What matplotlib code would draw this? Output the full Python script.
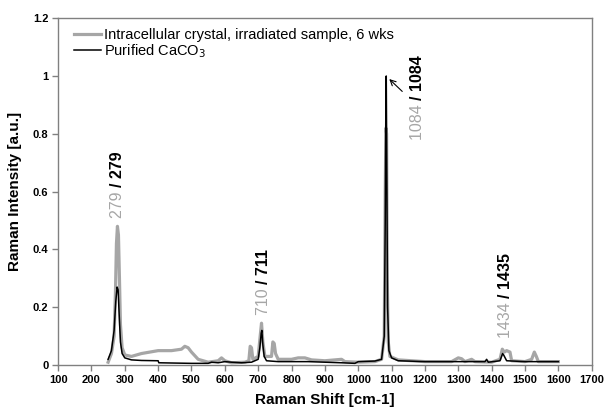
"""
Raman spectra: intracellular crystal vs purified CaCO3.
"""

import matplotlib
matplotlib.use('Agg')
import matplotlib.pyplot as plt
from matplotlib.transforms import offset_copy

# ---------------------------------------------------------------------------
# Data
# ---------------------------------------------------------------------------

purified_shift = [250, 260, 268, 273, 277, 280, 283, 287, 292, 300, 320, 350,
                  400, 402, 450, 500, 550, 560, 580, 600, 620, 650, 680, 700,
                  705, 709, 711, 714, 718, 725, 760, 800, 850, 900, 950, 990,
                  1000, 1050, 1070, 1078, 1081, 1083, 1084, 1086, 1088, 1092,
                  1100, 1120, 1200, 1300, 1380, 1385, 1390, 1425, 1433, 1436,
                  1445, 1500, 1550, 1600]
purified_int = [0.02, 0.05, 0.12, 0.22, 0.27, 0.26, 0.18, 0.08, 0.04, 0.025,
                0.018, 0.016, 0.015, 0.008, 0.007, 0.006, 0.006, 0.01, 0.008,
                0.012, 0.01, 0.008, 0.01, 0.02, 0.06, 0.11, 0.12, 0.07, 0.03,
                0.015, 0.012, 0.012, 0.012, 0.01, 0.008, 0.006, 0.012, 0.014,
                0.02, 0.1, 0.5, 0.95, 1.0, 0.6, 0.2, 0.05, 0.025, 0.015, 0.012,
                0.012, 0.012, 0.02, 0.01, 0.015, 0.04, 0.035, 0.015, 0.012,
                0.012, 0.012]

crystal_shift = [250, 260, 268, 272, 275, 278, 281, 284, 287, 292, 300, 320,
                 350, 400, 440, 470, 480, 490, 500, 520, 550, 580, 590, 600,
                 620, 660, 672, 676, 680, 684, 700, 706, 710, 714, 720, 740,
                 744, 748, 752, 760, 800, 820, 840, 860, 900, 950, 960, 1000,
                 1050, 1070, 1078, 1081, 1083, 1085, 1087, 1090, 1095, 1120,
                 1200, 1280, 1300, 1310, 1320, 1340, 1350, 1400, 1425, 1432,
                 1438, 1445, 1455, 1460, 1500, 1520, 1528, 1534, 1540, 1600]
crystal_int = [0.01, 0.04, 0.1, 0.25, 0.42, 0.48, 0.45, 0.3, 0.14, 0.06, 0.035,
               0.03, 0.04, 0.05, 0.05, 0.055, 0.065, 0.06, 0.045, 0.02, 0.01,
               0.015, 0.025, 0.015, 0.008, 0.01, 0.015, 0.065, 0.06, 0.02,
               0.03, 0.1, 0.145, 0.08, 0.03, 0.03, 0.08, 0.075, 0.04, 0.02,
               0.02, 0.025, 0.025, 0.018, 0.015, 0.02, 0.012, 0.01, 0.012,
               0.02, 0.1, 0.6, 0.82, 0.8, 0.3, 0.08, 0.03, 0.018, 0.012, 0.012,
               0.025, 0.022, 0.012, 0.02, 0.012, 0.01, 0.02, 0.055, 0.045,
               0.05, 0.045, 0.015, 0.012, 0.02, 0.045, 0.03, 0.012, 0.012]

# peak labels: gray part, black part, and where the label starts
peak_gray = ['279 ', '710 ', '1084 ', '1434 ']
peak_black = ['/ 279', '/ 711', '/ 1084', '/ 1435']
peak_x = [279, 715, 1177, 1441]
peak_y = [0.51, 0.173, 0.778, 0.093]

GRAY = '#a6a6a6'
SPINE = '#808080'

plt.rcParams['font.family'] = ['Liberation Sans', 'DejaVu Sans']

fig = plt.figure(figsize=(6.05, 4.13), dpi=100)
ax = fig.add_axes([0.096, 0.116, 0.882, 0.840])

ax.plot(crystal_shift, crystal_int, color=GRAY, lw=2.3,
        label='Intracellular crystal, irradiated sample, 6 wks')
ax.plot(purified_shift, purified_int, color='black', lw=1.1,
        label='Purified CaCO$_3$')

ax.set_xlim(100, 1700)
ax.set_ylim(0, 1.2)
ax.set_xticks(range(100, 1701, 100))
ax.set_yticks([0, 0.2, 0.4, 0.6, 0.8, 1.0, 1.2])
ax.set_yticklabels(['0', '0.2', '0.4', '0.6', '0.8', '1', '1.2'])
for lab in ax.get_xticklabels() + ax.get_yticklabels():
    lab.set_fontweight('bold')
ax.tick_params(direction='out', length=4, width=1, color=SPINE,
               labelsize=8, pad=3)
for sp in ax.spines.values():
    sp.set_color(SPINE)
    sp.set_linewidth(1)

ax.set_xlabel('Raman Shift [cm-1]', fontsize=11, fontweight='bold', labelpad=6)
ax.set_ylabel('Raman Intensity [a.u.]', fontsize=11, fontweight='bold', labelpad=8)

ax.legend(loc='upper left', bbox_to_anchor=(0.01, 1.0), frameon=False,
          fontsize=10.5, handlelength=1.9, handletextpad=0.2,
          labelspacing=0.0, borderaxespad=0.3)

# rotated two-tone peak labels
fig.canvas.draw()
renderer = fig.canvas.get_renderer()
for g, b, x, y in zip(peak_gray, peak_black, peak_x, peak_y):
    t = ax.text(x, y, g, rotation=90, ha='center', va='bottom',
                color=GRAY, fontsize=11.5)
    h = t.get_window_extent(renderer).height * 72 / fig.dpi
    tr = offset_copy(ax.transData, fig=fig, x=0, y=h, units='points')
    ax.text(x, y, b, rotation=90, ha='center', va='bottom', color='black',
            fontsize=11.5, fontweight='bold', transform=tr)

ax.annotate('', xy=(1087, 0.996), xytext=(1138, 0.94),
            arrowprops=dict(arrowstyle='->', color='black', lw=0.8))

fig.savefig('out.png', dpi=100)
